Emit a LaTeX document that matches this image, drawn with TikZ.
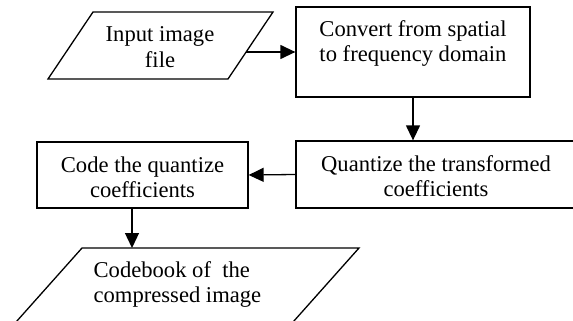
\documentclass[tikz,border=0pt]{standalone}
\usepackage{fontspec}
\setmainfont{Liberation Serif}
\usetikzlibrary{arrows.meta}
\begin{document}
\begin{tikzpicture}[x=1pt,y=-1pt,
  line width=1.3pt,
  box/.style={draw, rectangle, inner sep=0pt},
  lbl/.style={font=\fontsize{22.6}{25}\selectfont, align=center, anchor=base, inner sep=0pt},
  arr/.style={-{Triangle[length=15pt,width=14pt]}}]
\useasboundingbox (0,0) rectangle (573,321);
\clip (0,0) rectangle (573,321);

% input parallelogram
\coordinate (p1a) at (93,12);
\coordinate (p1b) at (273,12);
\coordinate (p1c) at (228,79);
\coordinate (p1d) at (48,79);
\coordinate (p1r) at (246,52);
\draw (p1a) -- (p1b) -- (p1c) -- (p1d) -- cycle;
% the base anchor of a two-line label sits on its last line
\node[lbl] (tin) at (160,67) {Input image\\file};

% process boxes
\node[box, minimum width=234pt, minimum height=90pt] (conv) at (413,52) {};
\node[lbl] (tconv) at (413,62) {Convert from spatial\\to frequency domain};

\node[box, minimum width=280pt, minimum height=67pt] (quant) at (436,174.5) {};
\node[lbl] (tquant) at (436,196) {Quantize the transformed\\coefficients};

\node[box, minimum width=211pt, minimum height=66pt] (code) at (142.5,175) {};
\node[lbl] (tcode) at (142.5,197) {Code the quantize\\coefficients};

% output parallelogram, running off the lower edge
\coordinate (p3a) at (82,248);
\coordinate (p3b) at (359,248);
\coordinate (p3c) at (277,340);
\coordinate (p3d) at (0,340);
\coordinate (p3in) at (132,248);
\draw (p3a) -- (p3b) -- (p3c) -- (p3d) -- cycle;
\node[lbl, anchor=base west, align=left] (tout) at (93,302) {Codebook of~ the\\compressed image};

% connectors
\draw[arr] (p1r) -- (conv.west);
\draw[arr] (conv.south) -- (conv.south |- quant.north);
\draw[arr] (quant.west) -- (code.east);
\draw[arr] (code.south -| p3in) -- (p3in);
\end{tikzpicture}
\end{document}
